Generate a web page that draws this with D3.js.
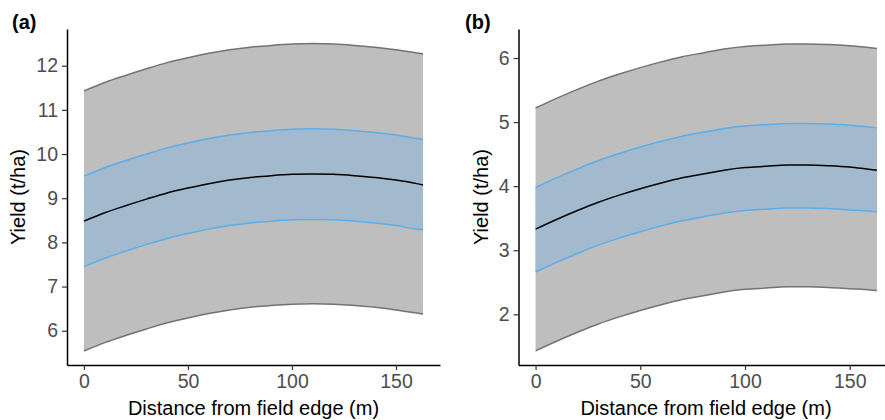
<!DOCTYPE html>
<html>
<head>
<meta charset="utf-8">
<script src="https://cdn.jsdelivr.net/npm/d3@7"></script>
<style>
  html, body { margin: 0; padding: 0; background: #fff; }
  svg { display: block; }
  text { font-family: "Liberation Sans", Arial, sans-serif; }
</style>
</head>
<body>
<svg id="chart" width="885" height="420"></svg>
<script>
// ---- Data ----
const distance = [0, 10, 20, 30, 40, 50, 60, 70, 80, 90, 100, 110, 120, 130, 140, 150, 160, 163];

// Panel (a)
const aMean    = [8.48, 8.67, 8.83, 8.98, 9.12, 9.23, 9.33, 9.41, 9.47, 9.51, 9.54, 9.55, 9.54, 9.51, 9.47, 9.41, 9.33, 9.30];
const aCiUpper = [9.50, 9.69, 9.85, 10.00, 10.14, 10.25, 10.35, 10.43, 10.49, 10.53, 10.56, 10.57, 10.56, 10.53, 10.49, 10.43, 10.35, 10.33];
const aCiLower = [7.45, 7.64, 7.80, 7.95, 8.09, 8.20, 8.30, 8.38, 8.44, 8.48, 8.51, 8.52, 8.51, 8.48, 8.44, 8.38, 8.30, 8.29];
const aPiUpper = [11.43, 11.62, 11.78, 11.93, 12.07, 12.18, 12.28, 12.36, 12.42, 12.46, 12.49, 12.50, 12.49, 12.46, 12.42, 12.36, 12.29, 12.27];
const aPiLower = [5.54, 5.73, 5.89, 6.04, 6.18, 6.29, 6.39, 6.47, 6.53, 6.57, 6.60, 6.61, 6.60, 6.57, 6.53, 6.47, 6.40, 6.38];
const aYTicks  = [6, 7, 8, 9, 10, 11, 12];

// Panel (b)
const bMean    = [3.33, 3.48, 3.62, 3.75, 3.86, 3.96, 4.05, 4.13, 4.19, 4.25, 4.29, 4.31, 4.33, 4.33, 4.32, 4.30, 4.26, 4.25];
const bCiUpper = [3.98, 4.13, 4.27, 4.40, 4.51, 4.61, 4.70, 4.78, 4.84, 4.90, 4.94, 4.96, 4.98, 4.98, 4.97, 4.95, 4.92, 4.91];
const bCiLower = [2.66, 2.81, 2.95, 3.08, 3.19, 3.29, 3.38, 3.46, 3.52, 3.58, 3.62, 3.64, 3.66, 3.66, 3.65, 3.63, 3.61, 3.60];
const bPiUpper = [5.22, 5.37, 5.51, 5.64, 5.75, 5.85, 5.94, 6.02, 6.08, 6.14, 6.18, 6.20, 6.22, 6.22, 6.21, 6.19, 6.16, 6.15];
const bPiLower = [1.43, 1.58, 1.72, 1.85, 1.96, 2.06, 2.15, 2.23, 2.29, 2.35, 2.39, 2.41, 2.43, 2.43, 2.42, 2.40, 2.38, 2.37];
const bYTicks  = [2, 3, 4, 5, 6];

const xTicks = [0, 50, 100, 150];
const panelLabels = ["(a)", "(b)"];
const xTitle = "Distance from field edge (m)";
const yTitle = "Yield (t/ha)";

// ---- Drawing ----
const svg = d3.select("#chart");

const panels = [
  { label: panelLabels[0], mean: aMean, ciU: aCiUpper, ciL: aCiLower, piU: aPiUpper, piL: aPiLower,
    yTicks: aYTicks, yDomain: [5.224, 12.831], xRange: [67, 440], yRange: [365, 29],
    labelX: 12, titleX: 25, xTitleCenter: 253.5 },
  { label: panelLabels[1], mean: bMean, ciU: bCiUpper, ciL: bCiLower, piU: bPiUpper, piL: bPiLower,
    yTicks: bYTicks, yDomain: [1.209, 6.453], xRange: [518.5, 894], yRange: [365, 29],
    labelX: 465, titleX: 488, xTitleCenter: 706 }
];

const xDomain = [-8.15, 171.15];

panels.forEach(p => {
  const g = svg.append("g");
  const x = d3.scaleLinear().domain(xDomain).range(p.xRange);
  const y = d3.scaleLinear().domain(p.yDomain).range(p.yRange);

  const rows = distance.map((d, i) => ({
    d, m: p.mean[i], cu: p.ciU[i], cl: p.ciL[i], pu: p.piU[i], pl: p.piL[i]
  }));

  const curve = d3.curveMonotoneX;
  const area = (lo, hi) => d3.area().x(r => x(r.d)).y0(r => y(r[lo])).y1(r => y(r[hi])).curve(curve);
  const line = key => d3.line().x(r => x(r.d)).y(r => y(r[key])).curve(curve);

  // prediction ribbon
  g.append("path").datum(rows).attr("d", area("pl", "pu")).attr("fill", "#bebebe");
  // confidence ribbon
  g.append("path").datum(rows).attr("d", area("cl", "cu")).attr("fill", "#a2b9ce");
  // edges
  ["pu", "pl"].forEach(k => g.append("path").datum(rows).attr("d", line(k))
    .attr("fill", "none").attr("stroke", "#737373").attr("stroke-width", 1.5));
  ["cu", "cl"].forEach(k => g.append("path").datum(rows).attr("d", line(k))
    .attr("fill", "none").attr("stroke", "#5aaeeb").attr("stroke-width", 1.5));
  g.append("path").datum(rows).attr("d", line("m"))
    .attr("fill", "none").attr("stroke", "#000").attr("stroke-width", 1.5);

  // axes
  const xAxis = g.append("g").attr("transform", `translate(0,${p.yRange[0]})`)
    .call(d3.axisBottom(x).tickValues(xTicks).tickFormat(d3.format("d"))
      .tickSize(5).tickPadding(4).tickSizeOuter(0));
  const yAxis = g.append("g").attr("transform", `translate(${p.xRange[0]},0)`)
    .call(d3.axisLeft(y).tickValues(p.yTicks).tickFormat(d3.format("d"))
      .tickSize(5).tickPadding(4).tickSizeOuter(0));
  [xAxis, yAxis].forEach(a => {
    a.select(".domain").attr("stroke", "#000").attr("stroke-width", 1.5);
    a.selectAll(".tick line").attr("stroke", "#333").attr("stroke-width", 1.2);
    a.selectAll(".tick text").attr("fill", "#4d4d4d").style("font-size", "19.5px")
      .style("font-family", "'Liberation Sans', Arial, sans-serif");
  });

  // titles
  g.append("text").attr("x", p.xTitleCenter)
    .attr("y", 415).attr("text-anchor", "middle").style("font-size", "20px").attr("fill", "#000")
    .text(xTitle);
  g.append("text").attr("transform", `translate(${p.titleX},197) rotate(-90)`)
    .attr("text-anchor", "middle").style("font-size", "20px").attr("fill", "#000")
    .text(yTitle);
  g.append("text").attr("x", p.labelX).attr("y", 29).style("font-size", "20px")
    .style("font-weight", "bold").attr("fill", "#000").text(p.label);
});
</script>
</body>
</html>
